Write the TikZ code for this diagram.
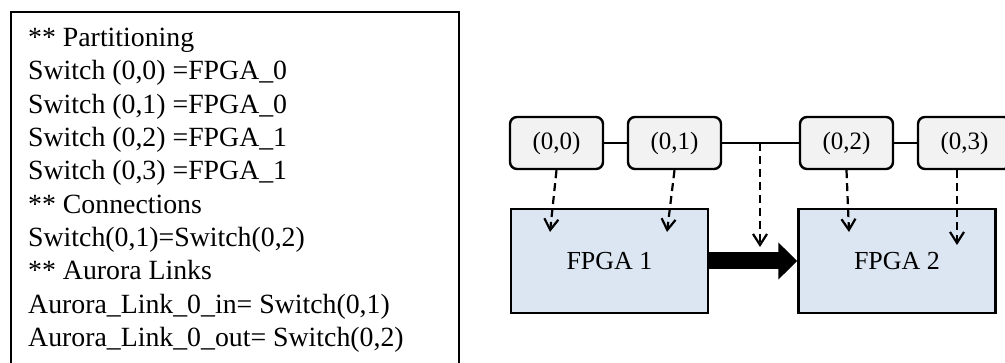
\documentclass[tikz,border=0pt]{standalone}
\usepackage{fontspec}
\setmainfont{Liberation Serif}
\usetikzlibrary{arrows.meta}
\definecolor{swfill}{HTML}{F2F2F2}
\definecolor{fpgafill}{HTML}{DCE6F2}
\begin{document}
\begin{tikzpicture}[x=1pt,y=-1pt,
  codeline/.style={anchor=base west, inner sep=0pt, font=\fontsize{27.8}{33}\selectfont},
  framebox/.style={draw, line width=2.2pt, anchor=north west, inner sep=0pt, minimum width=448pt, minimum height=369pt},
  switchbox/.style={draw, line width=2.4pt, rounded corners=7pt, fill=swfill, minimum width=93pt, minimum height=52pt, inner sep=0pt, font=\fontsize{25}{30}\selectfont},
  fpgabox/.style={draw, line width=2.4pt, fill=fpgafill, minimum width=197pt, minimum height=104pt, inner sep=0pt, font=\fontsize{26}{31}\selectfont},
  link/.style={line width=2.2pt},
  maparrow/.style={line width=2.2pt, dash pattern=on 8pt off 5pt, -{Straight Barb[length=11pt,width=14pt,line width=2.2pt]}},
  bigarrow/.style={line width=17pt, -{Triangle[length=19pt,width=36pt]}}
]
\useasboundingbox (0,0) rectangle (1005,363);
\clip (0,0) rectangle (1005,363);

% left listing
\node[framebox] (frame) at (10,11) {};
\node[codeline] (l0) at (28,46.7) {** Partitioning};
\node[codeline] (l1) at (28,80.0) {Switch (0,0) =FPGA\_0};
\node[codeline] (l2) at (28,113.3) {Switch (0,1) =FPGA\_0};
\node[codeline] (l3) at (28,146.6) {Switch (0,2) =FPGA\_1};
\node[codeline] (l4) at (28,179.9) {Switch (0,3) =FPGA\_1};
\node[codeline] (l5) at (28,213.2) {** Connections};
\node[codeline] (l6) at (28,246.5) {Switch(0,1)=Switch(0,2)};
\node[codeline] (l7) at (28,279.8) {** Aurora Links};
\node[codeline] (l8) at (28,313.1) {Aurora\_Link\_0\_in= Switch(0,1)};
\node[codeline] (l9) at (28,346.4) {Aurora\_Link\_0\_out= Switch(0,2)};

% right diagram
\node[fpgabox] (f1) at (609.5,261) {FPGA 1};
\node[fpgabox] (f2) at (897,261) {FPGA 2};

\node[switchbox] (s00) at (556.5,143) {(0,0)};
\node[switchbox] (s01) at (674.5,143) {(0,1)};
\node[switchbox] (s02) at (846.5,143) {(0,2)};
\node[switchbox] (s03) at (964.5,143) {(0,3)};

\draw[link] (s00) -- (s01);
\draw[link] (s01) -- (s02);
\draw[link] (s02) -- (s03);

\coordinate (j) at (760,143);
\coordinate (t00) at (550,232);
\coordinate (t01) at (667,232);
\coordinate (t02) at (849,232);
\coordinate (t03) at (957,245);
\coordinate (tj) at (760,247);

\draw[maparrow] (s00.south) -- (t00);
\draw[maparrow] (s01.south) -- (t01);
\draw[maparrow] (s02.south) -- (t02);
\draw[maparrow] (s03.south -| t03) -- (t03);
\draw[maparrow] (j) -- (tj);

\draw[bigarrow] (f1.east) -- (f2.west);
\end{tikzpicture}
\end{document}
